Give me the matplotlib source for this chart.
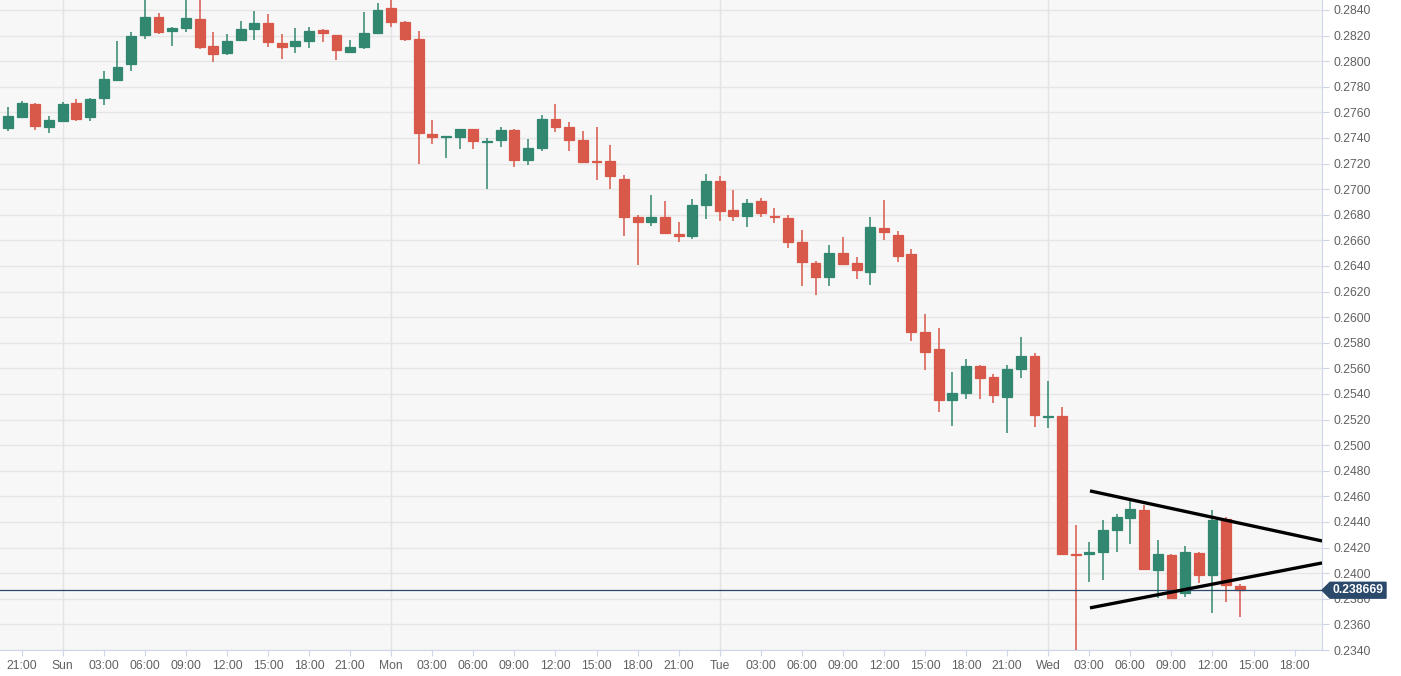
import matplotlib
matplotlib.use("Agg")
import matplotlib.pyplot as plt
from matplotlib.patches import Polygon

# hourly candles, hour 0 = Sat 20:00
opens = [0.27478, 0.27567, 0.27663, 0.27483, 0.27530, 0.27676, 0.27562, 0.27710, 0.27853, 0.27976,
         0.28207, 0.28348, 0.28233, 0.28259, 0.28330, 0.28121, 0.28061, 0.28163, 0.28249, 0.28296,
         0.28145, 0.28116, 0.28158, 0.28246, 0.28202, 0.28075, 0.28108, 0.28220, 0.28413, 0.28306,
         0.28171, 0.27431, 0.27405, 0.27408, 0.27468, 0.27369, 0.27384, 0.27465, 0.27228, 0.27325,
         0.27551, 0.27486, 0.27387, 0.27218, 0.27223, 0.27082, 0.26786, 0.26746, 0.26780, 0.26652,
         0.26633, 0.26879, 0.27062, 0.26837, 0.26790, 0.26908, 0.26790, 0.26774, 0.26584, 0.26422,
         0.26315, 0.26505, 0.26422, 0.26354, 0.26696, 0.26641, 0.26495, 0.25883, 0.25750, 0.25353,
         0.25411, 0.25619, 0.25533, 0.25374, 0.25599, 0.25695, 0.25218, 0.25226, 0.24153, 0.24153,
         0.24166, 0.24341, 0.24434, 0.24492, 0.24023, 0.24145, 0.23846, 0.24158, 0.23987, 0.24427,
         0.23901]
highs = [0.27645, 0.27689, 0.27671, 0.27575, 0.27679, 0.27705, 0.27710, 0.27926, 0.28160, 0.28226,
         0.28500, 0.28374, 0.28270, 0.28500, 0.28500, 0.28226, 0.28210, 0.28317, 0.28392, 0.28366,
         0.28210, 0.28262, 0.28265, 0.28252, 0.28202, 0.28166, 0.28387, 0.28457, 0.28500, 0.28317,
         0.28239, 0.27541, 0.27413, 0.27468, 0.27470, 0.27403, 0.27489, 0.27468, 0.27390, 0.27580,
         0.27663, 0.27528, 0.27457, 0.27483, 0.27343, 0.27111, 0.26799, 0.26952, 0.26905, 0.26746,
         0.26926, 0.27122, 0.27106, 0.26991, 0.26923, 0.26934, 0.26855, 0.26798, 0.26683, 0.26438,
         0.26563, 0.26626, 0.26469, 0.26780, 0.26918, 0.26670, 0.26532, 0.26024, 0.25914, 0.25570,
         0.25674, 0.25630, 0.25559, 0.25630, 0.25846, 0.25718, 0.25499, 0.25299, 0.24380, 0.24244,
         0.24414, 0.24466, 0.24570, 0.24531, 0.24257, 0.24148, 0.24210, 0.24166, 0.24492, 0.24440,
         0.23919]
lows = [0.27455, 0.27562, 0.27463, 0.27437, 0.27525, 0.27535, 0.27535, 0.27658, 0.27848, 0.27926,
        0.28173, 0.28210, 0.28116, 0.28226, 0.28098, 0.27994, 0.28046, 0.28155, 0.28166, 0.28114,
        0.28020, 0.28064, 0.28106, 0.28147, 0.28012, 0.28061, 0.28098, 0.28215, 0.28270, 0.28155,
        0.27197, 0.27353, 0.27241, 0.27317, 0.27317, 0.26999, 0.27327, 0.27176, 0.27189, 0.27301,
        0.27444, 0.27298, 0.27202, 0.27069, 0.27004, 0.26634, 0.26409, 0.26709, 0.26649, 0.26589,
        0.26613, 0.26769, 0.26751, 0.26754, 0.26701, 0.26785, 0.26735, 0.26537, 0.26244, 0.26174,
        0.26244, 0.26417, 0.26302, 0.26252, 0.26605, 0.26435, 0.25814, 0.25588, 0.25262, 0.25147,
        0.25361, 0.25361, 0.25330, 0.25098, 0.25526, 0.25140, 0.25132, 0.24148, 0.23380, 0.23932,
        0.23950, 0.24164, 0.24231, 0.24030, 0.23807, 0.23799, 0.23815, 0.23924, 0.23692, 0.23778,
        0.23656]
closes = [0.27572, 0.27671, 0.27494, 0.27541, 0.27666, 0.27548, 0.27707, 0.27858, 0.27957, 0.28200,
          0.28343, 0.28228, 0.28257, 0.28335, 0.28114, 0.28054, 0.28160, 0.28249, 0.28301, 0.28150,
          0.28108, 0.28160, 0.28239, 0.28218, 0.28090, 0.28108, 0.28223, 0.28400, 0.28304, 0.28173,
          0.27437, 0.27405, 0.27413, 0.27468, 0.27374, 0.27377, 0.27465, 0.27228, 0.27319, 0.27548,
          0.27489, 0.27384, 0.27210, 0.27210, 0.27101, 0.26780, 0.26744, 0.26780, 0.26657, 0.26631,
          0.26876, 0.27062, 0.26832, 0.26790, 0.26895, 0.26811, 0.26780, 0.26584, 0.26432, 0.26315,
          0.26505, 0.26419, 0.26370, 0.26707, 0.26662, 0.26479, 0.25887, 0.25729, 0.25353, 0.25408,
          0.25619, 0.25526, 0.25390, 0.25596, 0.25700, 0.25239, 0.25226, 0.24153, 0.24145, 0.24166,
          0.24335, 0.24440, 0.24505, 0.24033, 0.24148, 0.23807, 0.24166, 0.23987, 0.24419, 0.23906,
          0.238669]

# triangle drawn on the chart (hour index, price)
upper_x = [79.05, 96.0]
upper_y = [0.24643, 0.24252]
lower_x = [79.05, 96.0]
lower_y = [0.23729, 0.24080]

day_names = {4: "Sun", 28: "Mon", 52: "Tue", 76: "Wed"}
start_hour = 20  # Sat 20:00

green = "#31876f"
red = "#d8584a"
navy = "#2b4a6b"
txt = "#606060"
axis_col = "#ccd6eb"

plt.rcParams["font.family"] = ["Liberation Sans", "DejaVu Sans"]

fig = plt.figure(figsize=(14.01, 6.76), dpi=100)
ax = fig.add_axes([0, 26 / 676, 1322 / 1401, 650 / 676])
ax.set_facecolor("#f7f7f7")

xs = list(range(len(opens)))
for i in xs:
    o, h, l, c = opens[i], highs[i], lows[i], closes[i]
    col = green if c >= o else red
    ax.vlines(i, l, h, color=col, lw=1.1, zorder=3)
    ax.bar(i, abs(c - o), bottom=min(o, c), width=0.72, color=col,
           edgecolor=col, linewidth=0.9, zorder=4)

ax.plot(upper_x, upper_y, color="black", lw=2.4, zorder=6, solid_capstyle="butt")
ax.plot(lower_x, lower_y, color="black", lw=2.4, zorder=6, solid_capstyle="butt")

# current price line + label
last = closes[-1]
ax.axhline(last, color=navy, lw=0.9, zorder=5)
tr = ax.get_yaxis_transform()
px = 1 / 1322
hh = 0.00062
box = Polygon([(1.0, last), (1.0 + 8 * px, last + hh), (1.0 + 64 * px, last + hh),
               (1.0 + 64 * px, last - hh), (1.0 + 8 * px, last - hh)],
              closed=True, transform=tr, facecolor=navy, edgecolor=navy,
              clip_on=False, zorder=10)
ax.add_patch(box)
ax.text(1.0 + 36 * px, last, f"{last:.6f}", transform=tr, ha="center", va="center",
        color="white", fontsize=8.7, fontweight="bold", zorder=11, clip_on=False)

ax.set_xlim(-0.58, 96.0)
ax.set_ylim(0.2340, 0.28478)

# y axis
yt = [0.2340 + 0.002 * k for k in range(26)]
ax.set_yticks(yt)
ax.set_yticklabels([f"{v:.4f}" for v in yt])
ax.yaxis.tick_right()
ax.tick_params(axis="y", length=5, width=0.8, color=axis_col, labelcolor=txt,
               labelsize=8.7, pad=3)
for v in yt:
    ax.axhline(v, color="#e6e6e6", lw=1, zorder=1)

# x axis
xt = list(range(1, 95, 3))
labels = []
for t in xt:
    if t in day_names:
        labels.append(day_names[t])
    else:
        labels.append(f"{(start_hour + t) % 24:02d}:00")
ax.set_xticks(xt)
ax.set_xticklabels(labels)
ax.tick_params(axis="x", length=4, width=0.8, color=axis_col, labelcolor=txt,
               labelsize=8.7, pad=3)
for d in day_names:
    ax.axvline(d, color="#e3e3e3", lw=1, zorder=1)

for s in ["top", "left"]:
    ax.spines[s].set_visible(False)
ax.spines["right"].set_color(axis_col)
ax.spines["bottom"].set_color(axis_col)

fig.savefig("out.png", dpi=100, facecolor="white")
